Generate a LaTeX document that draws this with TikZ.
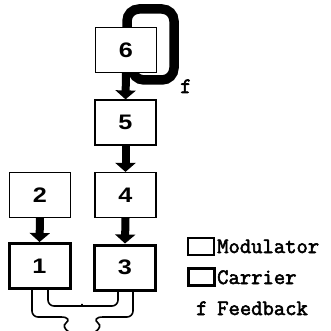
\documentclass[tikz,border=0pt]{standalone}
\usepackage{fontspec}
\usetikzlibrary{arrows.meta,backgrounds,calc}
\newfontfamily\digitfont{Liberation Sans}[FakeStretch=1.2]
\newfontfamily\legendfont{Latin Modern Mono}[FakeBold=2.5]
\tikzset{
  modbox/.style={draw, line width=1.2pt, fill=white, minimum width=61pt, minimum height=45pt, inner sep=0pt,
    font=\digitfont\bfseries\fontsize{21}{21}\selectfont},
  carbox/.style={modbox, line width=3pt},
  bigarrow/.style={line width=8pt, -{Triangle[width=20pt,length=9pt]}},
  fbloop/.style={line width=9.5pt, rounded corners=12pt},
  brace/.style={line width=1.6pt, rounded corners=6pt},
  legmod/.style={draw, line width=1.2pt, minimum width=26pt, minimum height=17pt, inner sep=0pt},
  legcar/.style={legmod, line width=2.6pt},
  legtext/.style={font=\legendfont\fontsize{22}{22}\selectfont, inner sep=0pt, anchor=base west}
}
\begin{document}
\begin{tikzpicture}[x=1pt,y=-1pt]
\useasboundingbox (0,0) rectangle (331,331);
% boxes
\node[modbox] (b6) at (126,50) {6};
\node[modbox] (b5) at (125.5,122.5) {5};
\node[modbox] (b4) at (125.5,195) {4};
\node[modbox] (b2) at (40,195) {2};
\node[carbox] (b1) at (39.5,266) {1};
\node[carbox] (b3) at (125,267.5) {3};
% arrows
\draw[bigarrow] (b6.south) -- (b5.north);
\draw[bigarrow] (b5.south) -- (b4.north);
\draw[bigarrow] (b4.south) -- (b3.north);
\draw[bigarrow] (b2.south) -- (b1.north);
% feedback loop and output brace behind the boxes
\begin{pgfonlayer}{background}
\draw[fbloop] ([xshift=6pt]b6.center) -- ($(b6.center |- 0,80)+(6,0)$) -- (174,80) -- (174,9) -- (127,9) -- ([xshift=1pt]b6.center);
\draw[brace] ([xshift=8.5pt]b1.center) |- (78,306) .. controls (81,306) and (82,307) .. (82,310) .. controls (82,307) and (83,306) .. (86,306) -| ([xshift=-7pt]b3.center);
\draw[brace] ([xshift=-7.5pt]b1.center) |- (62,317);
\draw[line width=1.6pt] (61,317) .. controls (68,317) and (70,320) .. (66,323) .. controls (63,325) and (64,329) .. (69,332);
\draw[brace] ([xshift=8pt]b3.center) |- (102,317);
\draw[line width=1.6pt] (103,317) .. controls (96,317) and (94,320) .. (98,323) .. controls (101,325) and (100,329) .. (95,332);
\end{pgfonlayer}
\node[legtext] (fl) at (180,93) {f};
% legend
\node[legmod] (lm) at (201,246.5) {};
\node[legcar] (lc) at (201.5,277) {};
\node[legtext] (tm) at (217,253) {Modulator};
\node[legtext] (tc) at (217,284) {Carrier};
\node[legtext] (tf0) at (196,315) {f};
\node[legtext] (tf) at (217,315) {Feedback};
\end{tikzpicture}
\end{document}
